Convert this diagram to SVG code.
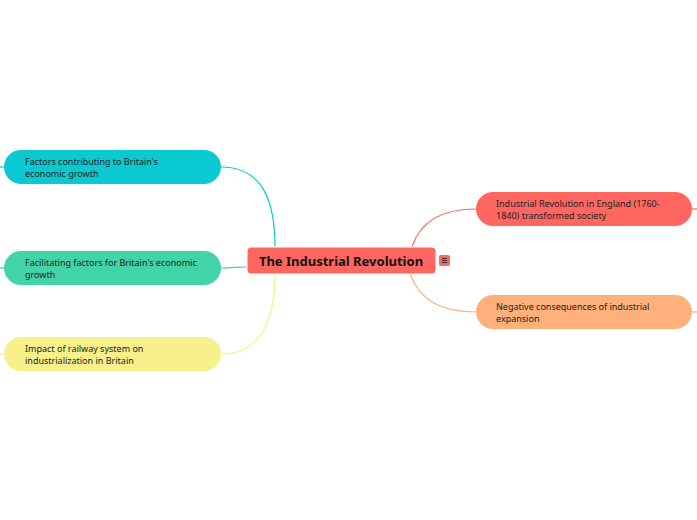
<svg xmlns="http://www.w3.org/2000/svg" width="697" height="520" viewBox="0 0 697 520">
<style>
.t{font-family:"Noto Sans","Open Sans","DejaVu Sans",sans-serif;font-size:9px;fill:#222}
.c{fill:none;stroke-width:1.2}
</style>
<rect width="697" height="520" fill="#fff"/>
<g id="connectors">
<path class="c" stroke="#0ac9d1" d="M221,167 C262,167 275,200 275,247"/>
<path class="c" stroke="#0ac9d1" d="M0,167 L4,167"/>
<path class="c" stroke="#40d4a6" d="M221,268 C232,268 238,267 247,267"/>
<path class="c" stroke="#40d4a6" d="M0,268 L4,268"/>
<path class="c" stroke="#f7f08b" d="M221,354 C262,354 275,318 275,274"/>
<path class="c" stroke="#f7f08b" d="M0,354 L4,354"/>
<path class="c" stroke="#ff6660" d="M412,247 C420,222 440,209 476,209"/>
<path class="c" stroke="#ff6660" d="M692,209 L697,209"/>
<path class="c" stroke="#ffb07b" d="M410,274 C420,300 440,312 476,312"/>
<path class="c" stroke="#ffb07b" d="M692,312 L697,312"/>
</g>
<g id="central">
<rect x="247" y="247" width="189" height="27" rx="4" fill="#ff6660" stroke="#fff" stroke-width="1"/>
<text x="341" y="266" text-anchor="middle" style="font-family:'Noto Sans','Open Sans',sans-serif;font-size:13px;font-weight:bold;fill:#111">The Industrial Revolution</text>
<rect x="439" y="255" width="11" height="11" rx="2" fill="#ff6660"/>
<path d="M442,258.5 H447 M442,260.5 H447 M442,262.5 H447" stroke="#222" stroke-width="0.9"/>
</g>
<g id="n1">
<rect x="4" y="150" width="217" height="34" rx="17" fill="#0ac9d1"/>
<text class="t" x="25" y="165">Factors contributing to Britain's</text>
<text class="t" x="25" y="177">economic growth</text>
</g>
<g id="n2">
<rect x="4" y="251" width="217" height="34" rx="17" fill="#40d4a6"/>
<text class="t" x="25" y="266">Facilitating factors for Britain's economic</text>
<text class="t" x="25" y="278">growth</text>
</g>
<g id="n3">
<rect x="4" y="337" width="217" height="34" rx="17" fill="#f7f08b"/>
<text class="t" x="25" y="352">Impact of railway system on</text>
<text class="t" x="25" y="364">industrialization in Britain</text>
</g>
<g id="n4">
<rect x="476" y="192" width="216" height="34" rx="17" fill="#ff6660"/>
<text class="t" x="496" y="207">Industrial Revolution in England (1760-</text>
<text class="t" x="496" y="219">1840) transformed society</text>
</g>
<g id="n5">
<rect x="476" y="295" width="216" height="34" rx="17" fill="#ffb07b"/>
<text class="t" x="496" y="310">Negative consequences of industrial</text>
<text class="t" x="496" y="322">expansion</text>
</g>
</svg>
